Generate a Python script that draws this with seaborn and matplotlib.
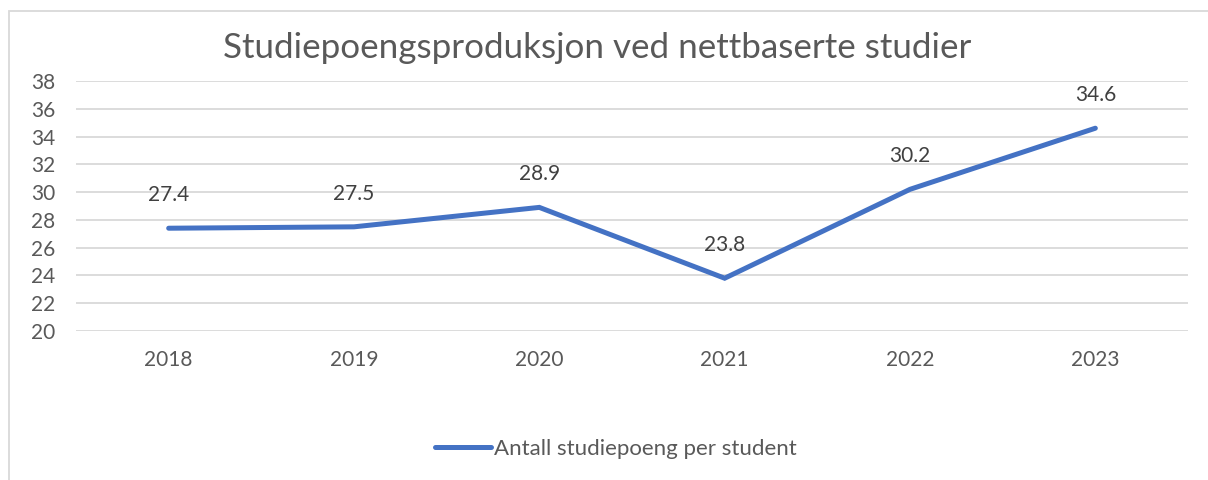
import matplotlib
matplotlib.use("Agg")
import matplotlib.pyplot as plt
import seaborn as sns
import pandas as pd
from matplotlib.patches import Rectangle

# data
years = ["2018", "2019", "2020", "2021", "2022", "2023"]
points = [27.4, 27.5, 28.9, 23.8, 30.2, 34.6]
series_name = "Antall studiepoeng per student"
title = "Studiepoengsproduksjon ved nettbaserte studier"
y_ticks = [20, 22, 24, 26, 28, 30, 32, 34, 36, 38]

df = pd.DataFrame({"year": years, "value": points})

sns.set_style("white")
plt.rcParams["font.family"] = ["Lato", "DejaVu Sans"]

W, H = 1208, 480
fig = plt.figure(figsize=(W / 100, H / 100), dpi=100)
ax = fig.add_axes([76 / W, 1 - 331 / H, (1188 - 76) / W, (331 - 81) / H])

sns.lineplot(data=df, x="year", y="value", ax=ax, color="#4472C4",
             linewidth=3.6, label=series_name, sort=False,
             solid_capstyle="round", solid_joinstyle="miter")

# data labels above each point
for i, v in enumerate(points):
    ax.annotate(f"{v:.1f}", (i, v), xytext=(0, 24), textcoords="offset points",
                ha="center", va="center", fontsize=15, color="#404040")

ax.set_xlim(-0.5, len(years) - 0.5)
ax.set_ylim(20, 38)
ax.set_yticks(y_ticks)
ax.grid(axis="y", color="#D9D9D9", linewidth=1.3)
ax.set_axisbelow(True)
for s in ax.spines.values():
    s.set_visible(False)
ax.tick_params(axis="both", length=0, labelsize=15, colors="#595959")
ax.tick_params(axis="x", pad=14)
ax.tick_params(axis="y", pad=15)
ax.set_xlabel("")
ax.set_ylabel("")

fig.text(597 / W, 1 - 48 / H, title, ha="center", va="center",
         fontsize=25.2, color="#595959")

ax.get_legend().remove()
leg = fig.legend(*ax.get_legend_handles_labels(), loc="center",
                 bbox_to_anchor=(616 / W, 1 - 449 / H), frameon=False,
                 fontsize=16, handlelength=2.5, handletextpad=0.15,
                 labelcolor="#595959")

# chart border (cropped on right and bottom)
fig.patches.append(Rectangle((9 / W, -0.1), 1.2, 1 - 11 / H + 0.1,
                             transform=fig.transFigure, fill=False,
                             edgecolor="#D9D9D9", linewidth=1.3))

fig.savefig("out.png", dpi=100)
